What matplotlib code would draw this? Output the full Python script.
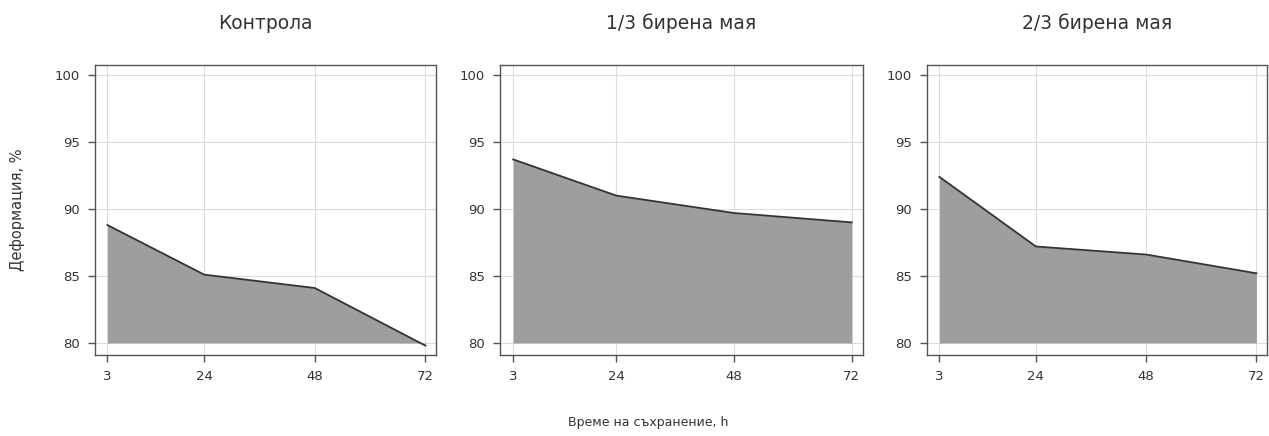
import matplotlib
matplotlib.use('Agg')
import matplotlib.pyplot as plt

# ─── Data ──────────────────────────────────────────────────────
hours = [3, 24, 48, 72]
titles = ['Контрола', '1/3 бирена мая', '2/3 бирена мая']
control = [88.8, 85.1, 84.1, 79.8]
third = [93.7, 91.0, 89.7, 89.0]
two_thirds = [92.4, 87.2, 86.6, 85.2]
series = [control, third, two_thirds]
base = 80

FILL = '#9e9e9e'
EDGE = '#333333'
GRID = '#dcdcdc'
TEXT = '#333333'

fig = plt.figure(figsize=(12.69, 4.36), dpi=100)
W, H = 1269, 436
boxes = [(95, 436), (500, 863), (927, 1267)]
top, bottom = 65, 355

for (x0, x1), title, vals in zip(boxes, titles, series):
    ax = fig.add_axes([x0 / W, 1 - bottom / H, (x1 - x0) / W, (bottom - top) / H])
    ax.fill_between(hours, base, vals, color=FILL, lw=0, zorder=2)
    ax.plot(hours, vals, color=EDGE, lw=1.3, zorder=3)
    ax.set_xlim(0.3, 74.3)
    ax.set_ylim(79.1, 100.75)
    ax.set_xticks(hours)
    ax.set_yticks([80, 85, 90, 95, 100])
    ax.grid(True, color=GRID, lw=0.8, zorder=0)
    ax.set_axisbelow(True)
    for s in ax.spines.values():
        s.set_color('#555555')
        s.set_linewidth(1.0)
    ax.tick_params(colors='#555555', labelcolor=TEXT, labelsize=9.5,
                   length=5, width=1.0, pad=6)
    ax.set_title(title, fontsize=13.5, color=TEXT, pad=26)

fig.text(18 / W, 1 - 210 / H, 'Деформация, %', rotation=90, ha='center',
         va='center', fontsize=10.5, color=TEXT)
fig.text(648 / W, 1 - 422 / H, 'Време на съхранение, h', ha='center',
         va='center', fontsize=9, color=TEXT)

fig.savefig('out.png', dpi=100, facecolor='white')
